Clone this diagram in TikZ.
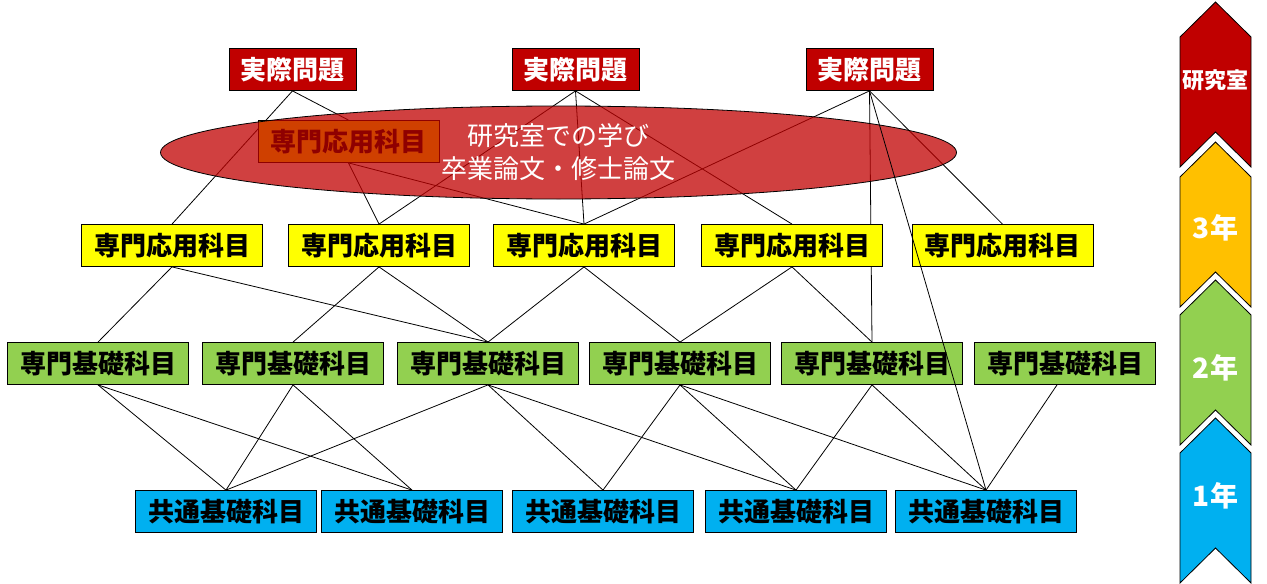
\documentclass[tikz,border=0pt]{standalone}
\usepackage{fontspec}
\setmainfont{Noto Sans CJK JP}
\usetikzlibrary{backgrounds,shapes.geometric}
\definecolor{jred}{HTML}{C00000}
\definecolor{jyellow}{HTML}{FFFF00}
\definecolor{jgreen}{HTML}{92D050}
\definecolor{jblue}{HTML}{00B0F0}
\definecolor{jorange}{HTML}{FFC000}

\begin{document}
\begin{tikzpicture}[x=0.5pt,y=-0.5pt,
	box/.style={draw,line width=0.4pt,inner sep=0pt,minimum width=90.5pt,minimum height=21pt,font=\fontsize{13}{15}\selectfont\bfseries},
	real/.style={box,fill=jred,text=white,minimum width=63.5pt},
	appl/.style={box,fill=jyellow},
	basic/.style={box,fill=jgreen},
	common/.style={box,fill=jblue},
	link/.style={line width=0.4pt},
	grade/.style={text=white,font=\fontsize{14}{16}\selectfont\bfseries}]
					\useasboundingbox (0,0) rectangle (1267,583);
					\node[real] (r1) at (292.5,69.5) {実際問題};
					\node[real] (r2) at (575.5,69.5) {実際問題};
					\node[real] (r3) at (869.5,69.5) {実際問題};
					\node[appl] (y1) at (172,245.5) {専門応用科目};
					\node[appl] (y2) at (379,245.5) {専門応用科目};
					\node[appl] (y3) at (584,245.5) {専門応用科目};
					\node[appl] (y4) at (792,245.5) {専門応用科目};
					\node[appl] (y5) at (1002.5,245.5) {専門応用科目};
					\node[basic] (g1) at (98,363.5) {専門基礎科目};
					\node[basic] (g2) at (293,363.5) {専門基礎科目};
					\node[basic] (g3) at (488,363.5) {専門基礎科目};
					\node[basic] (g4) at (680,363.5) {専門基礎科目};
					\node[basic] (g5) at (872,363.5) {専門基礎科目};
					\node[basic] (g6) at (1065,363.5) {専門基礎科目};
					\node[common] (b1) at (226,511.5) {共通基礎科目};
					\node[common] (b2) at (412,511.5) {共通基礎科目};
					\node[common] (b3) at (603,511.5) {共通基礎科目};
					\node[common] (b4) at (796,511.5) {共通基礎科目};
					\node[common] (b5) at (986,511.5) {共通基礎科目};
					\node[appl] (yin) at (348.5,141.5) {専門応用科目};
					\begin{scope}[on background layer]
						\draw[link] (r1.south) -- (y1.north);
						\draw[link] (r1.south) -- (yin.north);
						\draw[link] (yin.south) -- (y2.north);
						\draw[link] (yin.south) -- (y3.north);
						\draw[link] (r2.south) -- (y2.north);
						\draw[link] (r2.south) -- (y3.north);
						\draw[link] (r2.south) -- (y4.north);
						\draw[link] (r3.south) -- (y3.north);
						\draw[link] (r3.south) -- (g5.north);
						\draw[link] (r3.south) -- (y5.north);
						\draw[link] (y1.south) -- (g1.north);
						\draw[link] (y1.south) -- (g3.north);
						\draw[link] (y2.south) -- (g2.north);
						\draw[link] (y2.south) -- (g3.north);
						\draw[link] (y3.south) -- (g3.north);
						\draw[link] (y3.south) -- (g4.north);
						\draw[link] (y4.south) -- (g4.north);
						\draw[link] (y4.south) -- (g5.north);
						\draw[link] (g1.south) -- (b1.north);
						\draw[link] (g1.south) -- (b2.north);
						\draw[link] (g2.south) -- (b1.north);
						\draw[link] (g2.south) -- (b2.north);
						\draw[link] (g3.south) -- (b1.north);
						\draw[link] (g3.south) -- (b3.north);
						\draw[link] (g3.south) -- (b4.north);
						\draw[link] (g4.south) -- (b3.north);
						\draw[link] (g4.south) -- (b4.north);
						\draw[link] (g4.south) -- (b5.north);
						\draw[link] (g5.south) -- (b4.north);
						\draw[link] (g5.south) -- (b5.north);
						\draw[link] ([xshift=-4pt]g6.south) -- (b5.north);
					\end{scope}
					% research lab
					\node[ellipse,draw,link,fill=jred,fill opacity=0.75,text opacity=1,text=white,inner sep=0pt,
						minimum width=398pt,minimum height=46.5pt,align=center,font=\fontsize{13}{16.5}\selectfont] (lab) at (558.5,152.5) {研究室での学び\\卒業論文・修士論文};
					\draw[link] (r3.south) -- (b5.north);
					% grades
					\filldraw[fill=jred,link] (1215.5,2) -- (1251,37) -- (1251,167) -- (1215.5,132) -- (1180,167) -- (1180,37) -- cycle;
					\filldraw[fill=jorange,link] (1215.5,142) -- (1251,177) -- (1251,307) -- (1215.5,272) -- (1180,307) -- (1180,177) -- cycle;
					\filldraw[fill=jgreen,link] (1215.5,280) -- (1251,315) -- (1251,445) -- (1215.5,410) -- (1180,445) -- (1180,315) -- cycle;
					\filldraw[fill=jblue,link] (1215.5,418) -- (1251,453) -- (1251,583) -- (1215.5,548) -- (1180,583) -- (1180,453) -- cycle;
					\node[grade,font=\fontsize{11}{13}\selectfont\bfseries] (lab0) at (1215.5,80) {研究室};
					\node[grade] (lab3) at (1215.5,228) {3年};
					\node[grade] (lab2) at (1215.5,368) {2年};
					\node[grade] (lab1) at (1215.5,496) {1年};
				\end{tikzpicture}
\end{document}
